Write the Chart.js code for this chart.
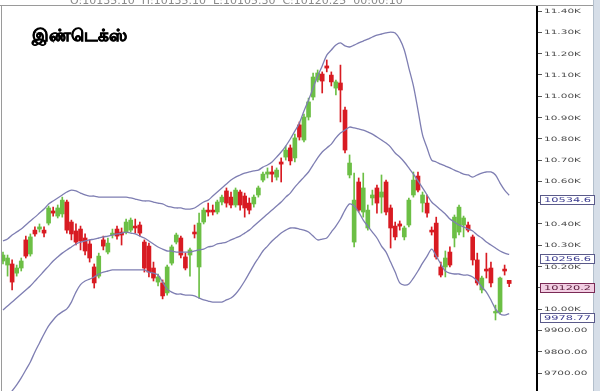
<!DOCTYPE html>
<html><head><meta charset="utf-8">
<script src="https://cdn.jsdelivr.net/npm/chart.js@4/dist/chart.umd.min.js"></script>
<style>html,body{margin:0;padding:0;background:#fff;overflow:hidden}#wrap{width:600px;height:391px;position:relative}</style>
</head><body><div id="wrap"><canvas id="c" width="600" height="391"></canvas></div>
<script>
const titleText = 'இண்டெக்ஸ்';
const headerText = 'O:10135.10  H:10135.10  L:10105.30  C:10120.25  00:00:10';

const opens = [10226,10207,10212,10169,10193,10325,10259,10371,10376,10371,
10404,10461,10437,10447,10503,10409,10367,10376,10334,10306,
10198,10155,10325,10268,10348,10376,10362,10362,10371,10390,
10395,10315,10296,10193,10127,10123,10076,10216,10315,10334,
10245,10254,10362,10198,10409,10465,10465,10456,10503,10555,
10526,10489,10550,10531,10498,10494,10536,10606,10634,10644,
10620,10691,10714,10757,10710,10865,10794,10902,10996,11076,
11104,11142,11099,11038,11062,10935,10630,10315,10597,10456,
10381,10522,10569,10526,10597,10475,10390,10400,10339,10395,
10536,10625,10498,10498,10371,10404,10198,10198,10268,10334,
10362,10395,10395,10339,10231,10090,10188,10193,9982,9987,
10188,10135.1];
const highs = [10268,10254,10231,10207,10240,10343,10353,10386,10400,10386,
10484,10479,10489,10526,10512,10418,10400,10390,10353,10325,
10212,10263,10343,10334,10376,10390,10381,10423,10428,10423,
10409,10325,10310,10221,10165,10137,10207,10301,10357,10343,
10263,10287,10395,10451,10475,10498,10489,10512,10536,10569,
10550,10569,10559,10545,10522,10536,10578,10644,10663,10672,
10663,10710,10766,10771,10822,10879,10916,10991,11109,11123,
11114,11170,11114,11076,11146,10949,10724,10639,10616,10639,
10489,10559,10583,10630,10606,10489,10409,10414,10390,10522,
10644,10644,10550,10536,10386,10432,10221,10273,10292,10442,
10489,10437,10409,10348,10263,10155,10263,10221,10019,10151,
10207,10135.1];
const lows = [10212,10155,10090,10155,10179,10240,10249,10343,10362,10339,
10395,10437,10428,10432,10357,10325,10301,10278,10254,10221,
10099,10146,10278,10259,10334,10329,10301,10353,10362,10357,
10343,10174,10151,10132,10109,10048,10066,10207,10306,10240,
10184,10155,10334,10052,10400,10437,10442,10447,10489,10479,
10475,10479,10465,10432,10447,10479,10526,10597,10616,10597,
10606,10597,10700,10677,10691,10794,10785,10888,10982,11067,
11015,11114,11048,11006,10879,10733,10616,10292,10456,10432,
10371,10489,10451,10451,10442,10287,10325,10371,10325,10386,
10526,10550,10456,10432,10348,10235,10151,10151,10198,10292,
10348,10339,10362,10207,10113,10076,10146,10104,9949,9977,
10160,10105.3];
const closes = [10254,10240,10127,10193,10226,10249,10339,10353,10386,10357,
10475,10451,10475,10512,10371,10353,10315,10320,10273,10240,
10123,10249,10296,10310,10357,10343,10348,10409,10418,10381,
10357,10193,10174,10146,10151,10062,10198,10292,10348,10254,
10193,10278,10353,10404,10465,10456,10456,10503,10526,10498,
10489,10559,10489,10475,10465,10526,10569,10634,10644,10634,
10653,10681,10747,10696,10804,10808,10902,10973,11090,11109,
11071,11132,11067,11067,11029,10747,10686,10512,10465,10569,
10465,10536,10498,10550,10456,10381,10339,10390,10381,10512,
10606,10559,10536,10451,10362,10245,10160,10240,10207,10432,
10479,10428,10371,10231,10123,10146,10179,10123,9987,10146,
10179,10120.25];

const upperBand = [10320,10329,10348,10362,10376,10395,10414,10432,10451,10470,
10494,10508,10522,10536,10550,10559,10555,10545,10536,10531,
10531,10526,10526,10526,10526,10526,10526,10526,10522,10517,
10512,10508,10508,10503,10498,10494,10484,10479,10475,10475,
10470,10470,10475,10489,10503,10512,10531,10550,10569,10588,
10606,10620,10630,10639,10644,10649,10653,10667,10677,10691,
10714,10738,10766,10799,10836,10874,10930,10982,11038,11095,
11142,11193,11217,11240,11250,11236,11231,11240,11250,11259,
11268,11278,11287,11292,11297,11301,11297,11268,11217,11132,
11048,10935,10818,10757,10700,10691,10681,10672,10663,10653,
10644,10634,10630,10620,10630,10639,10644,10644,10630,10592,
10559,10534.6];
const middleBand = [9996,10015,10033,10052,10071,10090,10109,10132,10155,10179,
10202,10226,10245,10263,10278,10292,10306,10315,10320,10325,
10329,10334,10339,10343,10348,10353,10357,10362,10357,10353,
10343,10334,10320,10306,10292,10282,10273,10273,10268,10268,
10268,10268,10273,10278,10282,10292,10296,10306,10310,10315,
10325,10334,10343,10357,10371,10390,10409,10428,10447,10465,
10484,10503,10526,10545,10573,10597,10620,10644,10677,10710,
10738,10757,10775,10804,10827,10841,10855,10851,10846,10841,
10832,10822,10808,10794,10780,10761,10733,10714,10691,10663,
10634,10602,10569,10536,10503,10484,10465,10447,10423,10409,
10395,10386,10376,10367,10348,10334,10315,10301,10287,10273,
10263,10256.6];
const lowerBand = [9573,9592,9616,9644,9677,9714,9752,9799,9841,9883,
9921,9949,9972,9987,10001,10033,10080,10115,10132,10141,
10151,10165,10174,10179,10184,10184,10184,10184,10184,10184,
10184,10184,10174,10169,10160,10127,10094,10080,10071,10071,
10066,10066,10062,10052,10043,10038,10033,10033,10033,10043,
10052,10071,10099,10132,10169,10207,10240,10273,10296,10320,
10339,10357,10371,10381,10381,10376,10371,10362,10343,10325,
10329,10334,10362,10390,10423,10465,10494,10484,10456,10418,
10390,10362,10334,10296,10268,10221,10174,10123,10113,10118,
10146,10179,10216,10249,10282,10249,10212,10179,10169,10165,
10165,10160,10160,10151,10132,10104,10080,10043,10001,9977,
9972,9978.77];

const tickValues = [9700,9800,9900,10000,10100,10200,10300,10400,10500,10600,10700,10800,10900,11000,11100,11200,11300,11400];
const tagValues = [10534.6, 10256.6, 10120.2, 9978.77];
const tagLabels = ['10534.6', '10256.6', '10120.2', '9978.77'];

function fmtTick(v){ return v >= 10000 ? (v/1000).toFixed(2) + 'K' : v.toFixed(2); }

const RED = '#d81b22', GREEN = '#6cbf45', BAND = '#7e7eb2';
const idx = closes.map((_, i) => i);
const candleColors = idx.map(i => closes[i] >= opens[i] ? GREEN : RED);

function stretchText(ctx, txt, x, y, font, sx){
  ctx.save();
  ctx.font = font;
  ctx.translate(x, y);
  ctx.scale(sx, 1);
  ctx.fillText(txt, 0, 0);
  ctx.restore();
}

const decor = {
  id: 'decor',
  beforeDraw(chart){
    const c = chart.ctx;
    c.save();
    c.fillStyle = '#fff';
    c.fillRect(0, 0, chart.width, chart.height);
    c.restore();
  },
  afterDraw(chart){
    const c = chart.ctx;
    const ys = chart.scales.y;
    c.save();
    c.fillStyle = '#8a8a8a';
    c.textBaseline = 'alphabetic';
    c.textAlign = 'left';
    c.font = '11px "DejaVu Sans"';
    c.fillText(headerText, 70, 3.5);
    c.strokeStyle = '#9a9a9a';
    c.lineWidth = 1;
    c.beginPath();
    c.moveTo(0, 5.5); c.lineTo(594, 5.5);
    c.moveTo(1.5, 5.5); c.lineTo(1.5, 391);
    c.stroke();
    c.fillStyle = '#d6dee8';
    c.fillRect(594, 0, 6, 391);
    c.fillStyle = '#b3bfcc';
    c.fillRect(593, 0, 1, 391);
    // title
    c.fillStyle = '#000';
    c.strokeStyle = '#000';
    c.lineWidth = 0.7;
    c.font = 'bold 16.5px "Noto Sans", "DejaVu Sans", sans-serif';
    c.textBaseline = 'alphabetic';
    c.fillText(titleText, 32, 41);
    c.strokeText(titleText, 32, 41);
    // tick labels
    c.fillStyle = '#4a4a4a';
    c.textBaseline = 'middle';
    tickValues.forEach(v => {
      const y = ys.getPixelForValue(v);
      stretchText(c, fmtTick(v), 544, y + 0.5, '6px "DejaVu Sans"', 1.75);
    });
    // value tags
    tagValues.forEach((v, k) => {
      const y = Math.round(ys.getPixelForValue(v) + 4.5);
      const isClose = k === 2;
      c.fillStyle = isClose ? '#f2cfe3' : '#ffffff';
      c.fillRect(540, y - 5, 55, 10);
      c.strokeStyle = isClose ? '#7a2a55' : '#5a5a8a';
      c.lineWidth = 1;
      c.strokeRect(540.5, y - 4.5, 54, 9);
      c.fillStyle = isClose ? '#5a1c3c' : '#3c3c90';
      c.textBaseline = 'middle';
      stretchText(c, tagLabels[k], 544, y + 0.5, '6.5px "DejaVu Sans"', 1.75);
    });
    c.restore();
  }
};

new Chart(document.getElementById('c'), {
  type: 'bar',
  data: {
    datasets: [
      { type: 'line', label: 'upper', data: upperBand.map((v, i) => ({x: i, y: v})), borderColor: BAND, borderWidth: 1.3, pointRadius: 0, fill: false, tension: 0.3, order: 0 },
      { type: 'line', label: 'middle', data: middleBand.map((v, i) => ({x: i, y: v})), borderColor: BAND, borderWidth: 1.3, pointRadius: 0, fill: false, tension: 0.3, order: 0 },
      { type: 'line', label: 'lower', data: lowerBand.map((v, i) => ({x: i, y: v})), borderColor: BAND, borderWidth: 1.3, pointRadius: 0, fill: false, tension: 0.3, order: 0 },
      { label: 'body', data: idx.map(i => ({x: i, y: [opens[i], closes[i]]})), backgroundColor: candleColors, barThickness: 4, minBarLength: 1.5, grouped: false, order: 1 },
      { label: 'wick', data: idx.map(i => ({x: i, y: [lows[i], highs[i]]})), backgroundColor: candleColors, barThickness: 1, grouped: false, order: 2 }
    ]
  },
  options: {
    responsive: false,
    animation: false,
    devicePixelRatio: 1,
    layout: { padding: { left: 2, top: 6, right: 0, bottom: 0 } },
    plugins: { legend: { display: false }, tooltip: { enabled: false } },
    scales: {
      x: { type: 'linear', min: -0.219, max: 117.1, offset: false, display: false, grid: { offset: false } },
      y: {
        position: 'right',
        min: 9615.5, max: 11423.5,
        afterBuildTicks: s => { s.ticks = tickValues.map(v => ({ value: v })); },
        afterFit: s => { s.width = 63; },
        ticks: { display: false },
        grid: { drawOnChartArea: false, drawTicks: true, tickLength: 5, color: '#555' },
        border: { color: '#000', width: 2 }
      }
    }
  },
  plugins: [decor]
});
</script>
</body></html>
